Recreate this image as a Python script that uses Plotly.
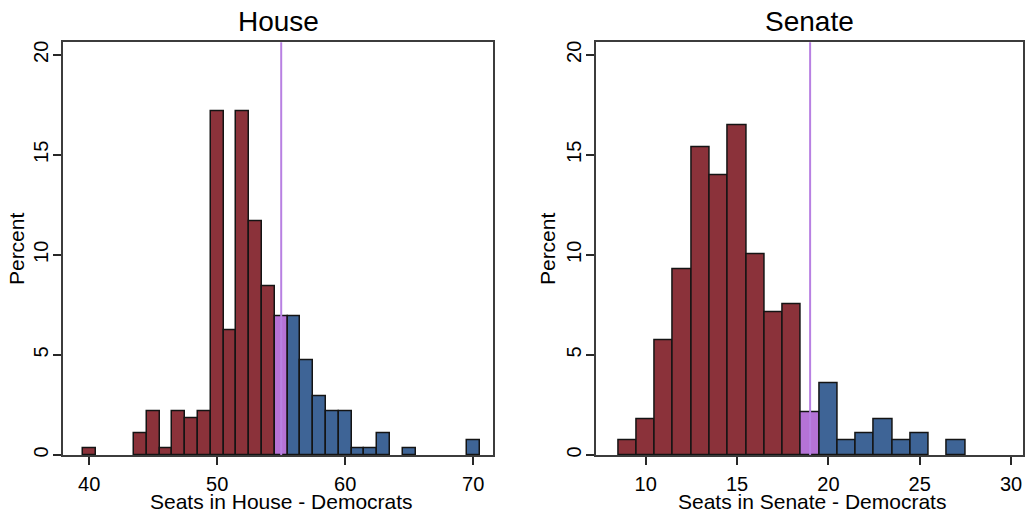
import plotly.graph_objects as go

# ---------------- data ----------------
house_seats = [40, 44, 45, 46, 47, 48, 49, 50, 51, 52, 53, 54, 55, 56, 57, 58, 59, 60, 61, 62, 63, 65, 70]
house_pct = [0.36, 1.1, 2.2, 0.36, 2.2, 1.82, 2.2, 17.2, 6.25, 17.2, 11.7, 8.43, 6.95, 6.95, 4.75, 2.92, 2.2, 2.2, 0.36, 0.36, 1.1, 0.36, 0.73]
house_cut = 55

senate_seats = [9, 10, 11, 12, 13, 14, 15, 16, 17, 18, 19, 20, 21, 22, 23, 24, 25, 27]
senate_pct = [0.72, 1.78, 5.75, 9.3, 15.38, 13.98, 16.5, 10.04, 7.13, 7.52, 2.12, 3.6, 0.72, 1.08, 1.78, 0.72, 1.08, 0.72]
senate_cut = 19

house_xticks = [40, 50, 60, 70]
senate_xticks = [10, 15, 20, 25, 30]
y_ticks = [0, 5, 10, 15, 20]

RED = "rgb(139,50,58)"
BLUE = "rgb(62,100,150)"
PURPLE = "rgb(181,115,214)"
LINE_PURPLE = "rgb(184,128,226)"
FONT = "Liberation Sans, Arial, sans-serif"


def colors(xs, cut):
    return [PURPLE if x == cut else (RED if x < cut else BLUE) for x in xs]


fig = go.Figure()
fig.add_trace(go.Bar(x=house_seats, y=house_pct, width=1,
                     marker=dict(color=colors(house_seats, house_cut),
                                 line=dict(color="rgb(20,20,20)", width=1.5)),
                     xaxis="x", yaxis="y", showlegend=False))
fig.add_trace(go.Bar(x=senate_seats, y=senate_pct, width=1,
                     marker=dict(color=colors(senate_seats, senate_cut),
                                 line=dict(color="rgb(20,20,20)", width=1.5)),
                     xaxis="x2", yaxis="y2", showlegend=False))

ydom = [0.1099, 0.9193]
common_x = dict(showline=True, mirror=True, linecolor="rgb(60,60,60)", linewidth=1.5,
                ticks="outside", ticklen=8, tickwidth=1.5, tickcolor="rgb(40,40,40)",
                showgrid=False, zeroline=False, ticklabelstandoff=2,
                tickfont=dict(family=FONT, size=20, color="black"))
common_y = dict(showline=True, mirror=True, linecolor="rgb(60,60,60)", linewidth=1.5,
                ticks="outside", ticklen=8, tickwidth=1.5, tickcolor="rgb(40,40,40)",
                showgrid=False, zeroline=False, tickangle=-90, ticklabelstandoff=-3,
                tickvals=y_ticks, range=[0, 20.63], domain=ydom,
                tickfont=dict(family=FONT, size=20, color="black"))

fig.update_layout(
    width=1026, height=514,
    margin=dict(l=0, r=0, t=0, b=0),
    paper_bgcolor="white", plot_bgcolor="white",
    bargap=0,
    xaxis=dict(common_x, domain=[0.0614, 0.4805], range=[37.95, 71.55], tickvals=house_xticks),
    yaxis=dict(common_y, anchor="x"),
    xaxis2=dict(common_x, domain=[0.5806, 0.9968], range=[7.26, 30.64], tickvals=senate_xticks, anchor="y2"),
    yaxis2=dict(common_y, anchor="x2"),
)

# cutoff lines
fig.add_shape(type="line", xref="x", yref="y domain", x0=house_cut, x1=house_cut, y0=0, y1=1,
              line=dict(color=LINE_PURPLE, width=2))
fig.add_shape(type="line", xref="x2", yref="y2 domain", x0=senate_cut, x1=senate_cut, y0=0, y1=1,
              line=dict(color=LINE_PURPLE, width=2))

# titles and axis labels
def ann(text, x, y, size, angle=0):
    fig.add_annotation(text=text, x=x, y=y, xref="paper", yref="paper",
                       xanchor="center", yanchor="middle", showarrow=False,
                       textangle=angle, font=dict(family=FONT, size=size, color="black"))

H = 514.0
W = 1026.0
ann("House", 278.5 / W, 1 - 21 / H, 28)
ann("Senate", 809 / W, 1 - 21 / H, 28)
ann("Seats in House - Democrats", 281 / W, 1 - 504 / H, 21)
ann("Seats in Senate - Democrats", 812 / W, 1 - 504 / H, 21)
ann("Percent", 16 / W, 1 - 250 / H, 21, -90)
ann("Percent", 547 / W, 1 - 250 / H, 21, -90)

fig.write_html("out.html")
